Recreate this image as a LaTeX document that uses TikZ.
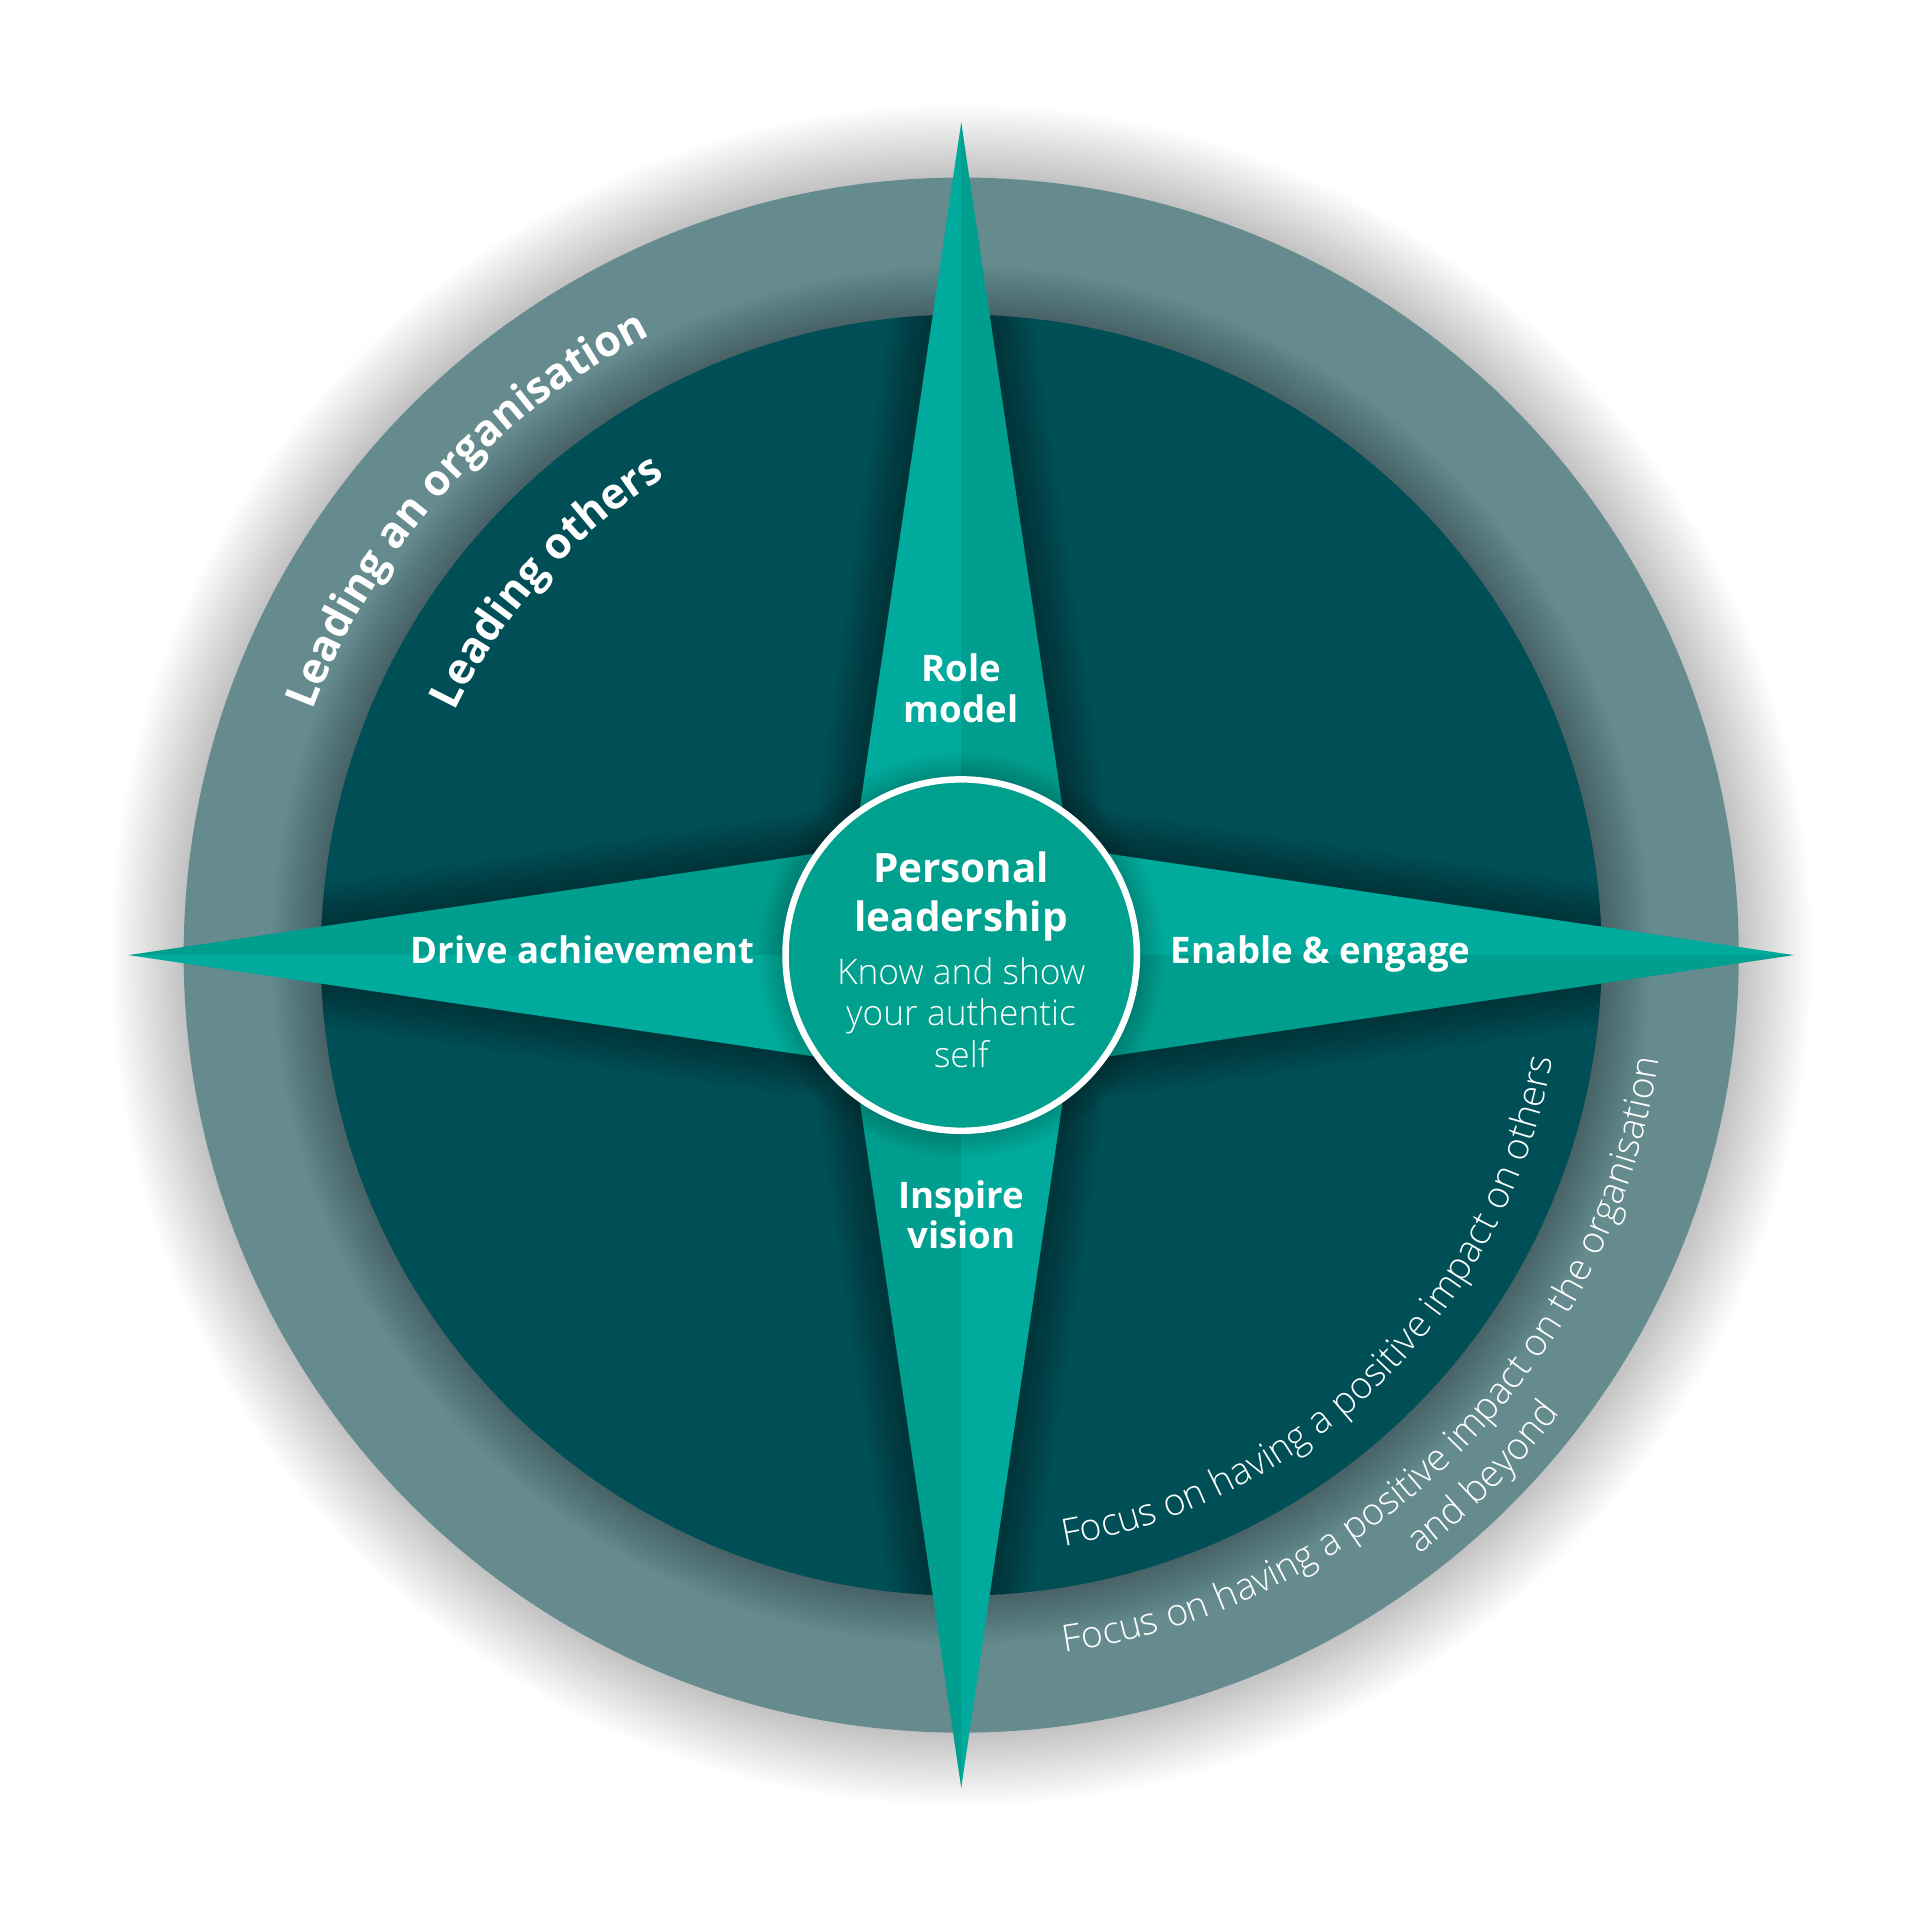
\documentclass[tikz,border=0pt]{standalone}
\usepackage{fontspec}
\setmainfont{Open Sans}
\newfontfamily\lightfont{Open Sans Light}
\usetikzlibrary{decorations.text}
\definecolor{ringgrey}{HTML}{658B8F}
\definecolor{innerdark}{HTML}{004F56}
\definecolor{starlight}{HTML}{00AB9D}
\definecolor{stardark}{HTML}{009E8E}
\definecolor{corefill}{HTML}{00A08E}

\begin{document}
\begin{tikzpicture}[
  armlabel/.style={text=white, font=\bfseries\fontsize{8.5}{9.4}\selectfont, align=center, inner sep=0pt},
  arctext/.style={decorate, decoration={text along path, text align=center, text color=white, text={#1}}}
]
  % Canvas
  \fill[white] (-7.85,-7.88) rectangle (7.83,7.80);
  % Soft shadow round the outer disc
  \foreach \i in {1,...,30}
    \fill[black, opacity=0.008] (0,0) circle ({6.35+0.02*\i});
  % Outer ring
  \fill[ringgrey] (0,0) circle (6.35);
  \foreach \i in {1,...,20}
    \fill[black, opacity=0.011] (0,0) circle ({5.23+0.02*\i});
  % Inner disc
  \fill[innerdark] (0,0) circle (5.23);
  % Star points
  \coordinate (N) at (0,6.8);
  \coordinate (E) at (6.8,0);
  \coordinate (S) at (0,-6.8);
  \coordinate (W) at (-6.8,0);
  \coordinate (NE) at (0.876,0.876);
  \coordinate (SE) at (0.876,-0.876);
  \coordinate (SW) at (-0.876,-0.876);
  \coordinate (NW) at (-0.876,0.876);
  \begin{scope}
    \clip (0,0) circle (5.23);
    \foreach \w in {2,4,...,20}
      \draw[black, opacity=0.03, line width=\w pt, line join=round]
        (N) -- (NE) -- (E) -- (SE) -- (S) -- (SW) -- (W) -- (NW) -- cycle;
  \end{scope}
  \foreach \a in {0,90,180,270} {
    \fill[starlight, rotate=\a] (0,0) -- (0,6.8) -- (-0.876,0.876) -- cycle;
    \fill[stardark, rotate=\a] (0,0) -- (0,6.8) -- (0.876,0.876) -- cycle;
  }
  % Centre circle
  \foreach \i in {1,...,10}
    \fill[black, opacity=0.015] (0,0) circle ({1.46+0.02*\i});
  \node[circle, fill=corefill, draw=white, line width=1.5pt, minimum size=2.87cm, inner sep=0pt] (core) at (0,0) {};
  \node[text=white, font=\bfseries\fontsize{9.4}{11.4}\selectfont, align=center, inner sep=0pt] (coretitle) at (0,0.475) {Personal\\leadership};
  \node[text=white, font=\lightfont\fontsize{8.2}{9.7}\selectfont, align=center, inner sep=0pt] (coretext) at (0,-0.47) {Know and show\\your authentic\\self};
  % Arm labels
  \node[armlabel] (rolemodel) at (0,2.18) {Role\\model};
  \node[armlabel] (inspire) at (0,-2.12) {Inspire\\vision};
  \node[armlabel, anchor=base] (drive) at (-3.095,-0.07) {Drive achievement};
  \node[armlabel, anchor=base] (enable) at (2.935,-0.07) {Enable \& engage};
  % Curved texts
  \path[arctext={|\bfseries\fontsize{10}{12}\selectfont|Leading an organisation}]
    (180:5.66) arc[start angle=180, end angle=96, radius=5.66];
  \path[arctext={|\bfseries\fontsize{10}{12}\selectfont|Leading others}]
    (175:4.59) arc[start angle=175, end angle=101, radius=4.59];
  \path[arctext={|\lightfont\fontsize{8.7}{10}\selectfont|Focus on having a positive impact on others}]
    (-95:4.9) arc[start angle=-95, end angle=5, radius=4.9];
  \path[arctext={|\lightfont\fontsize{8.7}{10}\selectfont|Focus on having a positive impact on the organisation}]
    (-95:5.76) arc[start angle=-95, end angle=5, radius=5.76];
  \path[arctext={|\lightfont\fontsize{8.7}{10}\selectfont|and beyond}]
    (-70:6.16) arc[start angle=-70, end angle=-20, radius=6.16];
\end{tikzpicture}
\end{document}
